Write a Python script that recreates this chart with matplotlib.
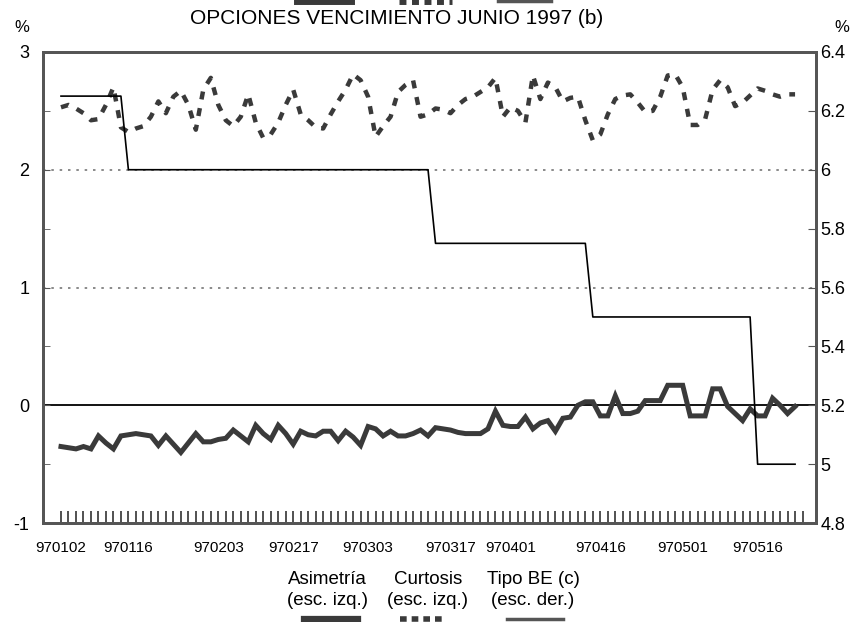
import matplotlib
matplotlib.use('Agg')
import matplotlib.pyplot as plt
from matplotlib.lines import Line2D
import numpy as np

plt.rcParams['font.family'] = ['Liberation Sans Narrow', 'Liberation Sans', 'DejaVu Sans']

# trading-day labels (index of the session -> yymmdd)
tick_idx = [0, 9, 21, 31, 41, 52, 60, 72, 83, 93]
tick_lab = ['970102', '970116', '970203', '970217', '970303',
            '970317', '970401', '970416', '970501', '970516']
n_days = 100

# skewness, left scale
asimetria = [-0.35, -0.36, -0.37, -0.35, -0.37, -0.26, -0.32, -0.37, -0.26, -0.25,
             -0.24, -0.25, -0.26, -0.34, -0.26, -0.33, -0.40, -0.32, -0.24, -0.31,
             -0.31, -0.29, -0.28, -0.21, -0.26, -0.31, -0.17, -0.24, -0.29, -0.17,
             -0.24, -0.33, -0.22, -0.25, -0.26, -0.22, -0.22, -0.30, -0.22, -0.27,
             -0.34, -0.18, -0.20, -0.26, -0.22, -0.26, -0.26, -0.24, -0.21, -0.26,
             -0.19, -0.20, -0.21, -0.23, -0.24, -0.24, -0.24, -0.20, -0.05, -0.17,
             -0.18, -0.18, -0.10, -0.20, -0.15, -0.13, -0.22, -0.11, -0.10, 0.00,
             0.03, 0.03, -0.09, -0.09, 0.08, -0.07, -0.07, -0.05, 0.04, 0.04,
             0.04, 0.17, 0.17, 0.17, -0.09, -0.09, -0.09, 0.14, 0.14, -0.01,
             -0.07, -0.13, -0.03, -0.09, -0.09, 0.06, 0.00, -0.07, -0.01]

# kurtosis, left scale
curtosis = [2.53, 2.55, 2.52, 2.48, 2.42, 2.43, 2.55, 2.70, 2.36, 2.32,
            2.35, 2.37, 2.45, 2.58, 2.48, 2.62, 2.67, 2.55, 2.34, 2.68,
            2.78, 2.55, 2.42, 2.37, 2.45, 2.64, 2.40, 2.27, 2.30, 2.40,
            2.55, 2.68, 2.47, 2.42, 2.36, 2.35, 2.47, 2.58, 2.68, 2.81,
            2.76, 2.62, 2.28, 2.37, 2.45, 2.66, 2.72, 2.76, 2.45, 2.47,
            2.52, 2.51, 2.48, 2.55, 2.60, 2.62, 2.66, 2.70, 2.78, 2.45,
            2.53, 2.50, 2.40, 2.80, 2.60, 2.74, 2.70, 2.58, 2.61, 2.62,
            2.42, 2.25, 2.30, 2.47, 2.60, 2.63, 2.64, 2.57, 2.49, 2.50,
            2.62, 2.80, 2.81, 2.70, 2.38, 2.38, 2.43, 2.68, 2.76, 2.70,
            2.54, 2.57, 2.63, 2.69, 2.67, 2.64, 2.62, 2.64, 2.64]

# official rate (Tipo BE), right scale
tipo_be = [6.25] * 9 + [6.0] * 41 + [5.75] * 21 + [5.5] * 22 + [5.0] * 6

fig = plt.figure(figsize=(8.57, 6.22), dpi=100)
ax = fig.add_axes([0.0502, 0.159, 0.902, 0.7575])
ax2 = ax.twinx()

dark = '#3a3a3a'
ax.axhline(0, color='black', lw=1.3, zorder=1)
for g in (1, 2):
    ax.axhline(g, color='#777777', lw=1.2, ls=(0, (1.5, 3.5)), zorder=1)

ax.plot(range(len(asimetria)), asimetria, color=dark, lw=3.6,
        solid_joinstyle='miter', zorder=3)
ax.plot(range(len(curtosis)), curtosis, color=dark, lw=3.2,
        ls=(0, (1.8, 2.0)), zorder=3)
ax2.plot(range(len(tipo_be)), tipo_be, color='black', lw=1.2, zorder=4)

ax.set_xlim(-2.4, 100.8)
ax.set_ylim(-1, 3)
ax2.set_ylim(4.8, 6.4)

ax.set_xticks(range(n_days), minor=True)
ax.set_xticks(tick_idx)
ax.set_xticklabels(tick_lab, fontsize=11)
ax.tick_params(axis='x', which='both', direction='in', length=9, width=1.1, color='#222222', pad=13)

ax.set_yticks([-1, 0, 1, 2, 3])
ax.set_yticklabels(['-1', '0', '1', '2', '3'], fontsize=13)
ax.set_yticks([-0.5, 0.5, 1.5, 2.5], minor=True)
ax.tick_params(axis='y', which='both', direction='in', length=5, color='#555555', pad=10)

ax2.set_yticks([4.8, 5.0, 5.2, 5.4, 5.6, 5.8, 6.0, 6.2, 6.4])
ax2.set_yticklabels(['4.8', '5', '5.2', '5.4', '5.6', '5.8', '6', '6.2', '6.4'], fontsize=13)
ax2.tick_params(axis='y', direction='in', length=6, color='#555555', pad=3)

for a in (ax, ax2):
    for s in a.spines.values():
        s.set_color('#555555')
        s.set_linewidth(2)

fig.text(0.463, 0.971, 'OPCIONES VENCIMIENTO JUNIO 1997 (b)', ha='center', va='center', fontsize=15)
fig.text(0.026, 0.955, '%', ha='center', va='center', fontsize=12)
fig.text(0.982, 0.955, '%', ha='center', va='center', fontsize=12)

# legend below the plot: label text with the line sample underneath
leg = [('Asimetría\n(esc. izq.)', 0.3816, dict(color=dark, lw=4.5), 0.3862, 0.031),
       ('Curtosis\n(esc. izq.)', 0.4994, dict(color=dark, lw=4, ls=(0, (1.2, 0.9))), 0.4913, 0.025),
       ('Tipo BE (c)\n(esc. der.)', 0.622, dict(color='#555555', lw=2.5), 0.6243, 0.033)]
for txt, xc, st, lc, hw in leg:
    fig.text(xc, 0.052, txt, ha='center', va='center', fontsize=13.5, linespacing=1.3)
    fig.add_artist(Line2D([lc - hw, lc + hw], [0.005, 0.005], **st))

# samples of the panel above, cut by the top edge
for xc, st in ((0.378, dict(color=dark, lw=5)), (0.497, dict(color=dark, lw=5, ls=(0, (1.0, 0.8)))),
               (0.612, dict(color='#555555', lw=2.5))):
    fig.add_artist(Line2D([xc - 0.031, xc + 0.031], [0.998, 0.998], **st))

fig.savefig('out.png', dpi=100)
